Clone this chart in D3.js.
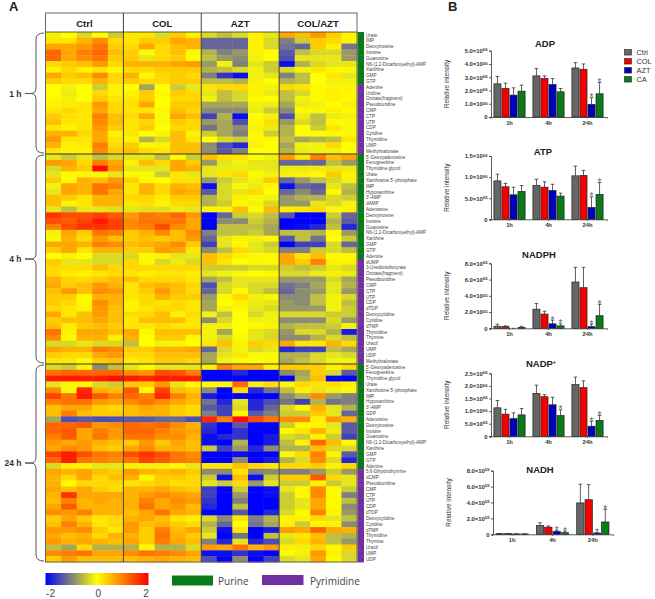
<!DOCTYPE html>
<html lang="en">
<head>
<meta charset="UTF-8">
<title>Heatmap and bars</title>
<script src="https://d3js.org/d3.v7.min.js"></script>
<style>
  html, body { margin: 0; padding: 0; background: #fff; }
  svg { display: block; font-family: "Liberation Sans", Arial, sans-serif; }
</style>
</head>
<body>
<script>
// heatmap rows: Ctrl x5, COL x5, AZT x5, COL/AZT x5
var groups = ["Ctrl", "COL", "AZT", "COL/AZT"];

var labels1h = ["Urate","IMP","Deoxyinosine","Inosine","Guanosine","N6-(1,2-Dicarboxyethyl)-AMP","Xanthine","GMP","GTP","Adenine","Uridine","Orotate(fragment)","Pseudouridine","CMP","CTP","UTP","CDP","Cytidine","Thymidine","UMP","Methylmalonate"];
var labels4h = ["5'-Deoxyadenosine","Fenugreekine","Thymidine glycol","Urate","Xanthosine 5'-phosphate","IMP","Hypoxanthine","3'-AMP","dAMP","Adenosine","Deoxyinosine","Inosine","Guanosine","N6-(1,2-Dicarboxyethyl)-AMP","Xanthine","GMP","GTP","Adenine","dUMP","3-Ureidoisobutyrate","Orotate(fragment)","Pseudouridine","CMP","CTP","UTP","CDP","dTDP","Deoxycytidine","Cytidine","dTMP","Thymidine","Thymine","Uracil","UMP","UDP","Methylmalonate"];
var labels24h = ["5'-Deoxyadenosine","Fenugreekine","Thymidine glycol","Urate","Xanthosine 5'-phosphate","IMP","Hypoxanthine","3'-AMP","GDP","Adenosine","Deoxyinosine","Inosine","Guanosine","N6-(1,2-Dicarboxyethyl)-AMP","Xanthine","GMP","GTP","Adenine","5,6-Dihydrothymine","dCMP","Pseudouridine","CMP","CTP","UTP","CDP","dTDP","Deoxycytidine","Cytidine","dTMP","Thymidine","Thymine","Uracil","UMP","UDP"];

// how many rows at the top of each block are purines
var purine1h = 9, purine4h = 18, purine24h = 18;

var heat1h = [
[-.1,0,-.3,0,-.4,.2,.2,-.3,.4,.1,-.3,-.5,-.3,.1,-.2,.7,.5,.8,.4,.1],
[.2,.2,.6,.9,.3,.2,.4,.4,.7,.6,-1.2,-1.2,-1.2,.1,-.3,-1,-.4,.4,.3,.1],
[.7,.7,.8,1.1,.4,.3,.7,.3,.5,.6,-1.2,-1.2,-1.2,.1,-.3,-1.1,-1.2,.4,.1,-1.1],
[1.2,.7,1,1.2,.5,.4,.05,.3,.5,-.05,-.6,-1,-.8,.1,0,-1.3,-.5,-.3,-.3,-.8],
[1.2,.7,.9,1.1,.4,.4,-.2,.3,.4,0,-.5,-.8,-.9,-.1,0,-1.4,-.2,-.2,-.2,-.8],
[.3,.4,.5,.8,.3,.6,.6,.6,.7,.8,-.8,-.1,-1,-.2,-.4,-1.9,-.6,-.3,-.2,-.2],
[.1,.3,.1,.2,.05,.3,.3,.4,.4,.4,-.6,-.5,-.3,-.1,-.4,-.3,-.1,.2,.05,.05],
[.7,.4,.5,.9,.3,.6,.05,.3,.4,.3,-1,-1.6,-1.9,-.1,-.2,-1,-.5,0,.2,-.2],
[.4,.3,.3,.6,.3,.4,.3,.3,.4,.4,-.5,-.5,-.6,-.1,0,-.6,-.5,0,-.1,-.1],
[0,-.1,0,-.4,.1,0,-.7,0,-.4,-.2,.2,.3,.3,.1,-.1,.3,.2,.05,.1,.1],
[0,-.15,0,.3,.1,.1,.4,.05,.4,.3,-.2,-.5,-.3,.1,-.15,-.5,-.3,.05,.1,.05],
[.05,-.1,0,.4,.2,.2,.4,0,.3,.3,-.1,-.5,-.3,.05,0,-.5,-.1,.05,.1,.05],
[.1,.15,.2,.8,.3,.25,.7,0,.4,.4,-.7,-.7,-.7,-.1,-.15,-.7,-.15,-.1,0,-.1],
[.2,.3,.2,.7,.3,.2,.2,.05,.5,.3,-.9,-.9,-.9,-.15,-.4,-.9,.05,-.05,.1,.05],
[.4,.25,.2,1,.5,.3,.7,-.05,.7,.5,-1.5,-.6,-1.9,0,-.1,-1.4,-.15,-.5,-.15,-.1],
[.5,.2,.2,.9,.5,.2,.3,-.05,.4,.3,-.8,-.7,-1.4,.05,.25,-.8,-.3,-.5,.05,-.05],
[.2,.1,.2,.8,.4,.2,.4,0,.3,.3,-1.1,-.7,-.9,-.1,-.15,-.6,0,-.4,.2,-.05],
[.6,.6,.3,.7,.1,.2,0,.1,.5,.1,-.4,-.7,-1,.05,-.4,-.6,0,0,.05,-.05],
[.8,.2,.2,.7,.2,.1,-.6,-.3,.5,.2,0,-.3,-.4,.05,.05,-.5,-.7,-.6,-.5,.2],
[.6,.1,.15,1,.3,.4,.05,.1,.5,.5,-.9,-1.4,-1.7,.1,0,-.7,-.1,-.1,.3,0],
[.2,.1,.1,.9,.4,.5,.3,.2,.5,.5,-.9,-1.3,-1,0,0,-.6,-.15,-.1,-.1,0]
];

var heat4h = [
[-.2,-.4,-.2,-.5,-.3,-.2,-.2,-.5,.05,-.4,.5,.25,.2,0,-.1,.8,.2,1,.5,.7],
[.8,.7,.3,1,.7,.1,.5,.3,.7,.4,-.8,-.2,-.1,-.2,-.2,-1.2,-1.2,-1.2,-.5,-.8],
[-.3,.6,.4,1.9,.8,-.2,-.2,-.2,.7,.6,-.2,-.15,-.15,-.15,-.2,-.15,-.15,-.15,-.2,-.15],
[-.2,.05,-.05,.05,-.2,.05,.05,-.4,.2,-.2,-.2,.2,.3,.05,-.1,-.1,.1,.05,.4,.1],
[.4,.05,.6,.5,.8,.35,.05,0,.2,.2,-.8,-.4,-.2,-.1,.4,-1.2,-.8,-.5,-.3,-.1],
[-.1,.7,.6,1.1,1,.2,.6,.3,.6,.5,-1.9,-.3,-.05,-.15,.05,-1.9,-1.2,-1.3,-.2,-.5],
[-.2,.7,.6,1.1,.7,.2,.6,.3,.7,.6,-1.3,-.3,-.2,.3,0,-1.2,-.9,-1.2,.05,-.6],
[.5,.4,.2,.6,.6,.3,.3,.15,.4,.4,-.6,-.3,.1,-.05,-.1,-.8,-.6,-.6,-.3,-.4],
[.5,.1,.2,.6,.6,.2,.25,.1,.3,.3,-.6,-.4,.05,-.1,-.3,-.8,-.8,-.2,-.3,-.1],
[-.2,-.5,-.2,-.2,-.25,-.2,-.25,-.25,-.15,-.2,.1,.1,.5,.05,.55,.15,.2,.3,.05,.1],
[1.6,1.4,1.4,1.5,1.3,.8,1.1,1,1.2,.8,-2,-1.2,-.4,-.3,-.5,-1.3,-2,-2,-.4,-1.2],
[1.4,1.3,1.5,1.8,1.5,.9,1.1,1.1,1.1,.7,-2,-.9,-.9,-.4,-.6,-2,-2,-2,-.6,-1.3],
[1,1.4,1.6,1.6,1.5,.9,1,1.4,.9,.7,-2,-.5,-.5,-.5,-.7,-2,-1.9,-1.7,-.5,-1.7],
[-.1,.7,.4,1.1,1,.4,.6,.9,.5,.9,-1,-.5,-.5,-.4,-.7,-.5,-.5,-.6,.05,-.8],
[-.05,.6,.3,.8,.5,.4,.5,.4,.5,.8,-1.2,-.2,.1,-.1,.05,-1.3,-.5,-1.1,0,-.4],
[.7,.7,.6,1,.9,.5,.6,.7,.9,.4,-1.5,-.2,.05,-.2,-.4,-2,-1.5,-1.5,-.3,-1.2],
[.4,.7,.2,.6,.6,.4,.4,.8,.7,.2,-.9,-.5,.3,-.2,-.3,-1,-1,-.4,-.3,-.5],
[0,.1,0,-.3,-.3,-.3,.05,.1,-.2,-.2,.5,.3,.1,.05,.05,.7,.2,.5,.05,.05],
[.4,-.2,-.2,-.3,-.3,.3,-.05,-.3,-.15,-.3,.5,.2,0,-.05,.05,.7,.4,1,.1,.1],
[.3,.25,.25,.5,.3,.3,.3,.3,.3,.3,-.4,-.4,-.4,-.3,-.3,-.4,-.5,-.4,-.2,-.3],
[.3,.15,.1,.2,.3,.2,.15,.2,.2,.15,-.2,-.1,-.05,0,.05,-.3,-.3,-.15,-.1,-.15],
[.6,.35,.3,.4,.5,.5,.3,.3,.3,.2,-.7,-.5,-.2,-.2,-.2,-.8,-.8,-.8,-.3,-.7],
[.7,.4,.5,.8,.6,.2,.5,.6,.5,.3,-1.4,-.3,-.2,-.3,-.3,-1.1,-1,-.7,-.2,-.6],
[.5,.8,.5,.9,.8,.2,.4,.8,.5,.3,-1.2,-.3,.05,-.3,-.5,-1.2,-.9,-.8,-.2,-.8],
[.4,.4,.05,.6,.6,.2,.3,.6,.4,.4,-.8,-.05,.3,-.1,-.05,-.9,-.9,-.5,-.1,-.3],
[.4,.3,.05,.9,.6,.1,.3,.2,.3,.2,-.7,0,.1,-.15,-.2,-.8,-.9,-.5,-.1,-.5],
[.3,.2,.1,.8,.5,.1,.2,.3,.3,.2,-.7,-.1,-.05,-.2,-.3,-.8,-.8,-.8,-.1,-.4],
[.7,.2,.5,.8,.5,.3,.3,.5,.1,.25,-.1,-.5,0,-.3,-.1,-.3,-.3,-.3,-.4,-.4],
[.4,.5,.5,.7,.5,.2,.5,.5,.5,.2,-.9,-.3,0,-.1,-.1,-.9,-.9,-.9,-.3,-.8],
[.5,.15,.4,.5,.4,.2,.2,.3,.2,.2,-.1,-.1,0,.05,.1,-.6,-.5,-.5,-.4,-.1],
[1.1,.1,.7,.7,.5,.7,.05,.5,.5,.5,-.1,-.7,0,-.2,-.3,-.8,-.3,-.3,-.6,-1.8],
[.9,.05,.6,.6,.1,.6,0,.4,.4,.05,-.1,-.3,-.05,-.2,-.3,-.9,-.9,-.6,-.3,-.5],
[-.3,-.3,-.2,-.3,-.3,-.5,0,-.1,-.05,0,.2,.5,.1,.4,.3,.7,.2,.2,.6,.3],
[.7,.6,.6,1,.9,.4,.4,.6,.6,.7,-1.2,-.3,-.1,-.3,-.2,-1.7,-1.5,-1.5,-.5,-.7],
[.4,.3,.3,.7,.8,.3,.3,.5,.5,.5,-.7,-.2,.2,.05,-.05,-.6,-.6,-.3,-.2,-.3],
[.2,.2,.05,.4,.5,.15,.2,.4,.4,.3,-.7,-.1,.05,0,.05,-.7,-.5,-.3,-.1,-.1]
];

var heat24h = [
[-.3,-.4,.1,-.9,-.5,-.2,.05,-.2,-.2,-.2,.1,1,.7,.7,.1,.4,.4,.4,.1,.3],
[1.1,1.2,1.2,1.2,1.2,.9,.8,1.4,1.3,1,-2,-2,-1.7,-2,-2,-.9,-.7,.4,-.3,-1.3],
[1.8,1.8,1.8,1.8,1.9,1.8,1.7,1.8,1.8,1.8,-2,-2,-2,-2,-2,-2,-.6,.5,-2,-2],
[-.2,-.05,.05,-.3,-.4,.4,.4,.8,-.2,.05,.05,.05,1.2,-.1,.3,.05,.3,.2,.25,.1],
[.9,-.05,1.7,.6,.5,1.3,.05,1.5,.5,.4,-.9,-2,.3,-1.7,-1.1,-.5,.1,-.2,-.1,.05],
[1.5,1.1,1.8,1.3,1,1.2,1,1.7,1,.6,-1.8,-2,-2,-2,-2,-.9,-.6,.9,-.8,-1],
[1,1.1,1.1,.8,.7,.9,1.1,.9,.7,.5,-1.1,-1.7,-.2,-1.7,-1.4,-1.1,-1.5,-.6,-1.1,-1],
[.5,.7,.7,.4,.3,.5,.7,.6,.4,.3,-1.3,-1.5,-.3,-1.7,-1.2,-.3,.05,.6,-.2,-.6],
[.5,1,.5,.4,.4,.5,.6,.6,.4,.3,-1,-1.5,.05,-1.3,-1,-.4,-.4,.4,-.2,-1.2],
[-.7,-1.4,-1.3,-1.4,-1.4,-1.3,-1.3,-1.2,-1.2,-1.4,1.7,1,1.9,1.4,1.1,.9,.9,.1,.8,.6],
[1.2,1.2,1.3,.8,.9,1.2,1.1,1.2,.9,.6,-1.6,-2,-1.3,-2,-2,-.4,.05,.1,-.2,-1.3],
[1.2,1.3,.7,1,.8,1.2,1.2,1,.8,.7,-1.7,-2,-1.6,-2,-2,.05,.2,.6,-.15,-1.3],
[1,1.3,.7,1.1,.8,1.1,1.1,.9,.9,.6,-1.9,-1.7,-1.6,-2,-1.8,-.3,-.4,.1,-.4,-1.5],
[.8,.7,.8,.6,.5,.4,.8,.4,.7,.5,-1.9,-2,-.6,-2,-1.8,-.5,.1,1.2,.5,.05],
[.7,.9,.8,.5,.4,.7,.9,.6,.6,.5,-.4,-1.5,-.8,-1.7,-.9,-.6,-.6,.5,-.3,-.3],
[1.5,1.8,1.4,1.1,1,1.4,1.6,1.4,1.1,.9,-2,-2,-1.9,-2,-2,.05,.3,1,.1,-1.3],
[1.2,1.8,1.1,1,.9,1.1,1.5,1.3,1.1,1,-2,-2,-.9,-2,-1.8,-.6,-.3,.9,-.3,-1.7],
[-.3,.1,.1,-.2,-.2,-.1,-.1,-.1,.05,-.2,.2,.2,.5,.3,.2,.3,.3,.4,.1,.3],
[.7,.6,.7,.5,.4,.8,.6,.5,.6,.4,-.9,-.9,.2,-1,-.9,-1,-1,-.8,-.4,-.8],
[.6,.3,.7,.3,.5,.6,.05,.4,.4,.3,-.4,-1.9,.5,-1.9,-.4,.4,.4,1.3,.3,-.2],
[.6,.05,.3,.3,.3,.2,.3,.4,.25,.3,-.2,-.4,.3,-.8,-.2,-.4,-.4,.1,-.4,-.2],
[.7,.5,.7,.4,.3,.6,.6,.7,.5,.4,-1.5,-2,-.4,-2,-1.9,-.2,.05,.9,.05,-.4],
[.6,1.6,.7,.7,.7,.6,.8,.9,.8,.7,-1.5,-2,-.8,-2,-1.9,-.4,.05,.9,.05,-1],
[.5,1,.6,.7,.6,.6,1,.7,.9,.8,-1.6,-2,-1,-2,-2,-.4,-.2,.7,.05,-.5],
[.7,1.3,.6,.6,.6,.6,1.1,.7,.8,.5,-1.7,-2,-.5,-2,-2,-.4,-.2,.7,.05,-.9],
[.9,.8,1,.6,.6,.5,.7,1.1,.7,.6,-2,-2,-1.3,-2,-1.7,-.3,.05,1,.1,-.8],
[.4,.7,.4,.2,.3,.6,.7,.5,.2,.1,-.3,-.9,.2,-1,-.6,.1,.1,.3,-.2,-.5],
[.5,1,.6,.2,.3,.8,.5,.6,.4,.3,-.6,-1.2,0,-1.1,-.7,.1,-.4,.05,.1,-.9],
[.8,.8,.9,.4,.2,.8,.4,1,.5,.7,-.4,-1.9,.2,-2,-1.8,.8,.7,1.2,.7,.6],
[.7,.5,.6,.3,.6,.6,.4,1.1,.6,.4,-.2,-2,-1.1,-2,-.5,-.2,.2,.5,-.5,-.6],
[.8,.6,.7,.6,.5,.7,.4,1,.7,.5,-1,-1.7,-.2,-1.7,-1.4,-.3,.3,.6,-.5,-.8],
[-.5,-.7,.3,-.6,-.6,-.6,.05,-.6,-.6,-.3,.8,.7,1.1,.6,.8,.1,-.1,.3,.05,.4],
[.9,1,1.1,.7,.7,.9,1.1,1,.9,.7,-1.9,-1.9,-1.6,-1.9,-2,.05,-.1,.8,.1,-.3],
[.4,.8,.5,.5,.5,.5,.6,.7,.6,.5,-1.4,-2,-.9,-2,-1.5,-.3,-.2,.7,.05,-.3]
];

// bar charts: rows are 1h, 4h, 24h, columns Ctrl, COL, AZT, CA
var times = ["1h", "4h", "24h"];
var series = ["Ctrl", "COL", "AZT", "CA"];
var seriesColor = ["#666666", "#f50000", "#0000c0", "#0a7a1a"];

var adpMean = [[2.5e6,2.15e6,1.65e6,1.95e6],[3.1e6,2.9e6,2.45e6,1.9e6],[3.7e6,3.6e6,.95e6,1.75e6]];
var adpTop = [[3.05e6,2.55e6,2.2e6,2.4e6],[3.65e6,3.1e6,2.9e6,2.15e6],[4.1e6,4e6,1.45e6,2.6e6]];
var adpStars = [[2,2],[2,3]];
var adpTicks = [0,1e6,2e6,3e6,4e6,5e6];

var atpMean = [[9.1e5,7.7e5,5.8e5,6.6e5],[8e5,7.6e5,6.8e5,5.5e5],[1.03e6,1.04e6,2.8e5,5.9e5]];
var atpTop = [[1.07e6,8.5e5,7.6e5,8e5],[9.5e5,8.9e5,8.3e5,6.2e5],[1.26e6,1.16e6,5.3e5,8.7e5]];
var atpStars = [[2,2],[2,3]];
var atpTicks = [0,5e5,1e6,1.5e6];

var nadphMean = [[.25e5,.2e5,0,.1e5],[2.35e5,1.75e5,.55e5,.3e5],[5.7e5,5e5,.2e5,1.55e5]];
var nadphTop = [[.5e5,.3e5,0,.25e5],[3.05e5,2.1e5,1e5,.55e5],[7.5e5,7.5e5,.5e5,2.95e5]];
var nadphStars = [[1,2],[1,3],[2,2],[2,3]];
var nadphTicks = [0,2e5,4e5,6e5,8e5];

var nadpMean = [[1.13e6,.88e6,.7e6,.85e6],[1.7e6,1.57e6,1.25e6,.82e6],[2.05e6,1.93e6,.4e6,.63e6]];
var nadpTop = [[1.42e6,1.07e6,.93e6,1.1e6],[2.03e6,1.65e6,1.55e6,1.05e6],[2.35e6,2.2e6,.6e6,.83e6]];
var nadpStars = [[1,3],[2,2],[2,3]];
var nadpTicks = [0,5e5,1e6,1.5e6,2e6,2.5e6];

var nadhMean = [[.08e5,.08e5,.05e5,.05e5],[1.1e5,.9e5,.35e5,.2e5],[3.95e5,4.35e5,.15e5,1.55e5]];
var nadhTop = [[.1e5,.1e5,.05e5,.05e5],[1.45e5,1.05e5,.5e5,.4e5],[6.3e5,6.25e5,.2e5,3.15e5]];
var nadhStars = [[1,2],[1,3],[2,2],[2,3]];
var nadhTicks = [0,2e5,4e5,6e5,8e5];

var w = 655, h = 599;
var svg = d3.select("body").append("svg").attr("width", w).attr("height", h);

var color = d3.scaleLinear().domain([-2, 0, 2]).range(["#0000ff", "#ffff00", "#ff0000"]);
var green = "#0a7a1a", purple = "#7030a0", ink = "#333";

// ---- panel A
var col = d3.scaleBand().domain(d3.range(20)).range([45.5, 357]);
var groupX = d3.scaleBand().domain(groups).range([45.5, 357]);

function drawBlock(rows, labels, purine, top, bottom, name, tipY) {
    var y = d3.scaleBand().domain(d3.range(rows.length)).range([top, bottom]);
    var g = svg.append("g");
    g.selectAll("g").data(rows).enter().append("g")
        .attr("transform", function(d, i) { return "translate(0," + y(i) + ")"; })
        .selectAll("rect").data(function(d) { return d; }).enter().append("rect")
        .attr("x", function(d, i) { return col(i); })
        .attr("width", col.bandwidth() + .4)
        .attr("height", y.bandwidth() + .4)
        .attr("fill", function(d) { return color(d); });
    // purine / pyrimidine strip
    g.selectAll(".strip").data(labels).enter().append("rect")
        .attr("class", "strip")
        .attr("x", 357.5).attr("width", 6.5)
        .attr("y", function(d, i) { return y(i); })
        .attr("height", y.bandwidth() + .4)
        .attr("fill", function(d, i) { return i < purine ? green : purple; });
    g.selectAll(".rowlabel").data(labels).enter().append("text")
        .attr("class", "rowlabel")
        .attr("x", 366)
        .attr("y", function(d, i) { return y(i) + y.bandwidth() / 2 + 1.6; })
        .attr("font-size", 4.6)
        .attr("fill", "#444")
        .text(function(d) { return d; });
    // curly brace on the left
    var a = top + 1, b = bottom - 1;
    svg.append("path")
        .attr("d", "M44," + a + "Q36," + a + " 36," + (a + 6) + "L36," + (tipY - 6) +
            "Q36," + tipY + " 31," + tipY + "L25," + tipY + "L31," + tipY + "Q36," + tipY + " 36," + (tipY + 6) +
            "L36," + (b - 6) + "Q36," + b + " 44," + b)
        .attr("fill", "none").attr("stroke", "#555").attr("stroke-width", 1);
    svg.append("text").attr("x", 21.5).attr("y", tipY + 3)
        .attr("text-anchor", "end").attr("font-size", 8.5).attr("font-weight", "bold")
        .attr("fill", ink).text(name);
}

drawBlock(heat1h, labels1h, purine1h, 32, 154, "1 h", 93.5);
drawBlock(heat4h, labels4h, purine4h, 154, 364, "4 h", 259);
drawBlock(heat24h, labels24h, purine24h, 364, 562, "24 h", 463);

// header boxes and dividing lines
svg.append("rect").attr("x", 45.5).attr("y", 13).attr("width", 311.5).attr("height", 549)
    .attr("fill", "none").attr("stroke", "#666").attr("stroke-width", 1);
svg.selectAll(".vline").data(groups.slice(1)).enter().append("line")
    .attr("class", "vline")
    .attr("x1", function(d) { return groupX(d); }).attr("x2", function(d) { return groupX(d); })
    .attr("y1", 13).attr("y2", 562)
    .attr("stroke", "#444").attr("stroke-width", 1);
svg.selectAll(".hline").data([32, 154, 364]).enter().append("line")
    .attr("class", "hline")
    .attr("x1", 45.5).attr("x2", 357)
    .attr("y1", function(d) { return d; }).attr("y2", function(d) { return d; })
    .attr("stroke", "#333").attr("stroke-width", function(d, i) { return i ? 1.2 : .8; });
svg.selectAll(".head").data(groups).enter().append("text")
    .attr("class", "head")
    .attr("x", function(d) { return groupX(d) + groupX.bandwidth() / 2; })
    .attr("y", 26.5)
    .attr("text-anchor", "middle").attr("font-size", 9.6).attr("font-weight", "bold")
    .attr("fill", "#222").text(function(d) { return d; });

svg.append("text").attr("x", 9).attr("y", 11).attr("font-size", 13).attr("font-weight", "bold").attr("fill", "#222").text("A");
svg.append("text").attr("x", 448).attr("y", 11).attr("font-size", 13).attr("font-weight", "bold").attr("fill", "#222").text("B");

// colour key
var defs = svg.append("defs");
var grad = defs.append("linearGradient").attr("id", "key");
grad.selectAll("stop").data([-2, 0, 2]).enter().append("stop")
    .attr("offset", function(d) { return (d + 2) / 4; })
    .attr("stop-color", function(d) { return color(d); });
svg.append("rect").attr("x", 45.5).attr("y", 573).attr("width", 103).attr("height", 12).attr("fill", "url(#key)");
var keyX = d3.scaleLinear().domain([-2, 2]).range([50, 145.5]);
var keyAxis = svg.append("g").attr("transform", "translate(0,588)")
    .call(d3.axisBottom(keyX).tickValues([-2, 0, 2]).tickSize(0).tickPadding(2).tickFormat(String));
keyAxis.select(".domain").remove();
keyAxis.selectAll("text").attr("font-size", 10).attr("font-family", "Liberation Sans").attr("fill", "#444");

svg.append("rect").attr("x", 172).attr("y", 575.5).attr("width", 41).attr("height", 10).attr("fill", green);
svg.append("text").attr("x", 218).attr("y", 584.5).attr("font-size", 10).attr("font-family", "Open Sans").attr("fill", "#444").text("Purine");
svg.append("rect").attr("x", 262).attr("y", 575).attr("width", 41.5).attr("height", 10).attr("fill", purple);
svg.append("text").attr("x", 310).attr("y", 584.5).attr("font-size", 10).attr("font-family", "Open Sans").attr("fill", "#444").text("Pyrimidine");

// ---- panel B
function supLabel(sel) {
    sel.each(function(d) {
        var t = d3.select(this);
        if (d === 0) { t.text("0"); return; }
        var e = Math.floor(Math.log10(d) + 1e-9);
        t.text(d3.format(".1f")(d / Math.pow(10, e)) + "\u00d710");
        t.append("tspan").attr("dy", -1.6).attr("font-size", 4.2).text("0" + e);
    });
}

function drawBars(title, titleX, titleY, mean, tops, stars, ticks, x0Range, yRange, titleSup) {
    var maxY = ticks[ticks.length - 1];
    var y = d3.scaleLinear().domain([0, maxY]).range(yRange);
    var x0 = d3.scaleBand().domain(times).range(x0Range).paddingInner(.2).paddingOuter(.1);
    var x1 = d3.scaleBand().domain(series).range([0, x0.bandwidth()]).paddingInner(.12);
    var g = svg.append("g");

    var groupsG = g.selectAll(".t").data(times).enter().append("g")
        .attr("class", "t")
        .attr("transform", function(d) { return "translate(" + x0(d) + ",0)"; });

    // error bars go up only, behind the bars
    groupsG.each(function(t, ti) {
        var gg = d3.select(this);
        series.forEach(function(s, si) {
            var cx = x1(s) + x1.bandwidth() / 2;
            gg.append("line").attr("x1", cx).attr("x2", cx)
                .attr("y1", y(mean[ti][si])).attr("y2", y(tops[ti][si]))
                .attr("stroke", ink).attr("stroke-width", .8);
            gg.append("line").attr("x1", cx - 1.8).attr("x2", cx + 1.8)
                .attr("y1", y(tops[ti][si])).attr("y2", y(tops[ti][si]))
                .attr("stroke", ink).attr("stroke-width", .8);
            gg.append("rect").attr("x", x1(s)).attr("width", x1.bandwidth())
                .attr("y", y(mean[ti][si])).attr("height", y(0) - y(mean[ti][si]))
                .attr("fill", seriesColor[si]).attr("stroke", "#222").attr("stroke-width", .7);
        });
    });

    stars.forEach(function(st) {
        var s = series[st[1]];
        g.append("text")
            .attr("x", x0(times[st[0]]) + x1(s) + x1.bandwidth() / 2)
            .attr("y", y(tops[st[0]][st[1]]) + 3.5)
            .attr("text-anchor", "middle").attr("font-size", 10).attr("fill", "#666").text("*");
    });

    var ax = g.append("g").attr("transform", "translate(" + (x0Range[0] + 1) + ",0)")
        .call(d3.axisLeft(y).tickValues(ticks).tickSize(2).tickPadding(1.5));
    ax.selectAll(".tick text").attr("font-size", 5.9).attr("font-weight", "bold")
        .attr("font-family", "Liberation Sans").attr("fill", ink).call(supLabel);
    ax.selectAll("line,path").attr("stroke", ink).attr("stroke-width", .8);

    var bx = g.append("g").attr("transform", "translate(0," + yRange[0] + ")")
        .call(d3.axisBottom(x0).tickSize(1.5).tickPadding(2));
    bx.selectAll(".tick text").attr("font-size", 5.8).attr("font-weight", "bold")
        .attr("font-family", "Liberation Sans").attr("fill", ink);
    bx.selectAll("line,path").attr("stroke", ink).attr("stroke-width", .8);

    var tt = g.append("text").attr("x", titleX).attr("y", titleY)
        .attr("text-anchor", "middle").attr("font-size", 9.5).attr("font-weight", "bold")
        .attr("fill", "#222").text(title);
    if (titleSup) tt.append("tspan").attr("dy", -3).attr("font-size", 5.5).text(titleSup);

    g.append("text")
        .attr("transform", "translate(" + (x0Range[0] - 41.5) + "," + ((yRange[0] + yRange[1]) / 2 + 0) + ") rotate(-90)")
        .attr("text-anchor", "middle").attr("font-size", 6.4).attr("fill", ink)
        .text("Relative intensity");
}

drawBars("ADP", 545, 47, adpMean, adpTop, adpStars, adpTicks, [490, 607], [117, 50.7]);
drawBars("ATP", 543, 155, atpMean, atpTop, atpStars, atpTicks, [490, 607], [219.3, 156]);
drawBars("NADPH", 539, 257.7, nadphMean, nadphTop, nadphStars, nadphTicks, [490, 607], [328.3, 263.3]);
drawBars("NADP", 541, 366.7, nadpMean, nadpTop, nadpStars, nadpTicks, [490, 607], [436.3, 373.3], "+");
drawBars("NADH", 540, 472.7, nadhMean, nadhTop, nadhStars, nadhTicks, [492, 613], [534.3, 470.7]);

// series legend
var leg = svg.append("g");
var legY = d3.scalePoint().domain(series).range([52.3, 79.3]);
leg.selectAll("rect").data(series).enter().append("rect")
    .attr("x", 624.5).attr("width", 7).attr("height", 5.5)
    .attr("y", function(d) { return legY(d) - 2.75; })
    .attr("fill", function(d, i) { return seriesColor[i]; })
    .attr("stroke", "#222").attr("stroke-width", .6);
leg.selectAll("text").data(series).enter().append("text")
    .attr("x", 636.5).attr("y", function(d) { return legY(d) + 2.7; })
    .attr("font-size", 7.4).attr("fill", ink).text(function(d) { return d; });
</script>
</body>
</html>
